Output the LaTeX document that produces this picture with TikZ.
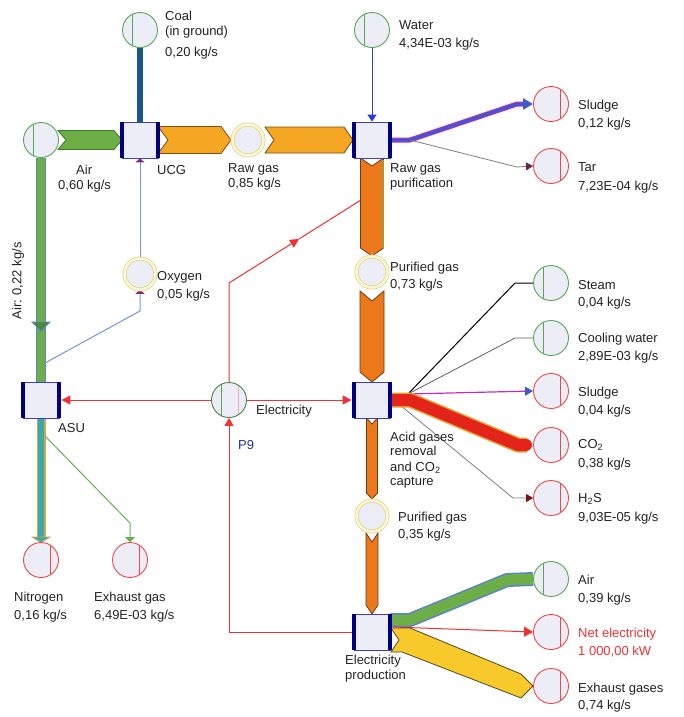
\documentclass[tikz,border=0pt]{standalone}
\usepackage{fontspec}
\setmainfont{Liberation Sans}
\usetikzlibrary{arrows.meta}
\pgfdeclarelayer{bg}
\pgfsetlayers{bg,main}
\definecolor{lav}{RGB}{237,237,247}
\definecolor{boxblue}{RGB}{60,60,200}
\definecolor{navy}{RGB}{0,0,128}
\definecolor{srcgreen}{RGB}{86,168,86}
\definecolor{sinkred}{RGB}{240,72,72}
\definecolor{ylw}{RGB}{222,212,130}
\definecolor{ylwin}{RGB}{250,245,210}
\definecolor{airgreen}{RGB}{109,175,70}
\definecolor{airdark}{RGB}{63,120,42}
\definecolor{orangeA}{RGB}{245,166,35}
\definecolor{orangeAedge}{RGB}{122,80,16}
\definecolor{orangeB}{RGB}{236,120,28}
\definecolor{orangeBedge}{RGB}{110,60,20}
\definecolor{coalblue}{RGB}{27,87,133}
\definecolor{waterblue}{RGB}{40,60,220}
\definecolor{sludgeblue}{RGB}{60,90,200}
\definecolor{sludgemag}{RGB}{200,40,200}
\definecolor{tarpurple}{RGB}{100,40,80}
\definecolor{elred}{RGB}{242,50,50}
\definecolor{co2red}{RGB}{227,36,27}
\definecolor{co2edge}{RGB}{232,160,48}
\definecolor{h2sred}{RGB}{110,20,20}
\definecolor{airblue}{RGB}{90,130,210}
\definecolor{exyel}{RGB}{248,201,42}
\definecolor{exyeledge}{RGB}{80,75,30}
\definecolor{oxblue}{RGB}{115,150,215}
\definecolor{oxpurple}{RGB}{130,40,120}
\definecolor{tealband}{RGB}{62,167,167}
\definecolor{nitroedge}{RGB}{208,165,80}
\definecolor{exgreen}{RGB}{96,180,80}
\definecolor{pinkchord}{RGB}{240,170,190}
\definecolor{p9blue}{RGB}{32,48,160}
\definecolor{txt}{RGB}{35,35,35}
\tikzset{
  lbl/.style={font=\fontsize{13}{15}\selectfont, inner sep=0pt, anchor=base west, text=txt},
  proc/.style={rectangle, draw=boxblue, line width=0.8pt, fill=lav, minimum size=36pt, inner sep=0pt},
  procbar/.style={draw=navy, line width=4pt},
  src/.style={circle, draw=srcgreen, line width=0.9pt, fill=lav, minimum size=35pt, inner sep=0pt,
    path picture={\draw[srcgreen, line width=0.9pt] ([xshift=-8pt]path picture bounding box.north) -- ([xshift=-8pt]path picture bounding box.south);}},
  sink/.style={circle, draw=sinkred, line width=0.9pt, fill=lav, minimum size=35pt, inner sep=0pt,
    path picture={\draw[sinkred, line width=0.9pt] ([xshift=9pt]path picture bounding box.north) -- ([xshift=9pt]path picture bounding box.south);}},
  elecsrc/.style={circle, draw=srcgreen!80!black, line width=0.9pt, fill=lav, minimum size=35pt, inner sep=0pt,
    path picture={\draw[srcgreen, line width=0.9pt] ([xshift=-8pt]path picture bounding box.north) -- ([xshift=-8pt]path picture bounding box.south);
                  \draw[pinkchord, line width=0.9pt] ([xshift=9pt]path picture bounding box.north) -- ([xshift=9pt]path picture bounding box.south);}},
  mid/.style={circle, draw=ylw, line width=0.7pt, double=ylwin, double distance=2.6pt, fill=lav, minimum size=31pt, inner sep=0pt},
  elec/.style={draw=elred, line width=1pt},
  orangeband/.style={fill=orangeA, draw=orangeAedge, line width=0.8pt},
  orangeband2/.style={fill=orangeB, draw=orangeBedge, line width=0.8pt}
}
\newcommand\hchevron[6]{\filldraw[#6] (#1,{#3-#4}) -- ({#2-#5},{#3-#4}) -- (#2,#3) -- ({#2-#5},{#3+#4}) -- (#1,{#3+#4}) -- ({#1+#5},#3) -- cycle;}
\newcommand\vchevron[6]{\filldraw[#6] ({#1-#4},#2) -- (#1,{#2+#5}) -- ({#1+#4},#2) -- ({#1+#4},{#3-#5}) -- (#1,#3) -- ({#1-#4},{#3-#5}) -- cycle;}
\begin{document}
\begin{tikzpicture}[x=1pt,y=-1pt]
\useasboundingbox (0,0) rectangle (683,717);

% ---------- nodes ----------
\node[proc] (ucg) at (140,140) {};
\node[proc] (rgp) at (372,140) {};
\node[proc] (agr) at (372,400) {};
\node[proc] (ep) at (372,632) {};
\node[proc] (asu) at (41,400) {};
\foreach \n in {ucg,rgp,agr,ep,asu}{
  \draw[procbar] (\n.north west) -- (\n.south west);
  \draw[procbar] (\n.north east) -- (\n.south east);
}
\node[src] (coal) at (140,30) {};
\node[src] (airsrc) at (41,140) {};
\node[src] (water) at (372,30) {};
\node[src] (steam) at (551,283) {};
\node[src] (cool) at (551,338) {};
\node[src] (airout) at (551,579) {};
\node[elecsrc] (elecc) at (229,400) {};
\node[sink] (sludgeA) at (551,104) {};
\node[sink] (tar) at (551,166) {};
\node[sink] (sludgeB) at (551,391) {};
\node[sink] (co2) at (551,445) {};
\node[sink] (h2s) at (551,498) {};
\node[sink] (netel) at (551,632) {};
\node[sink] (exh) at (551,686) {};
\node[sink] (nitro) at (41,560) {};
\node[sink] (exhg) at (130,560) {};
\node[mid] (rawgas) at (248,140) {};
\node[mid] (oxy) at (140,274) {};
\node[mid] (pgA) at (372,272) {};
\node[mid] (pgB) at (372,516) {};

% ---------- connectors ----------
\begin{pgfonlayer}{bg}
\fill[white] (0,0) rectangle (683,717);
% coal
\draw[line width=6.5pt, draw=coalblue, line cap=round] (coal.south) -- (ucg.north);
% air -> UCG
\hchevron{58}{122}{140}{9.5}{8}{fill=airgreen, draw=airdark, line width=0.8pt}
% UCG -> raw gas -> purification
\hchevron{158}{231}{140}{13.5}{10}{orangeband}
\hchevron{265}{353}{140}{13}{9}{orangeband}
% water
\draw[draw=waterblue, line width=0.9pt, -{Triangle[length=7pt,width=9pt]}] (water.south) -- (rgp.north);
% purification outputs
\coordinate (r1) at (410,140);
\coordinate (r2) at (517,104);
\coordinate (r3) at (517,167);
\draw[draw=sludgemag, line width=5pt, line join=round] (rgp.east) -- (r1) -- (r2) -- ([xshift=-8pt]sludgeA.west);
\draw[draw=sludgeblue, line width=3pt, line join=round, -{Triangle[length=10pt,width=11pt]}] (rgp.east) -- (r1) -- (r2) -- (sludgeA.west);
\draw[draw=gray, line width=0.8pt, -{Triangle[length=7pt,width=8pt,color=tarpurple]}] (r1) -- (r3) -- (tar.west);
% electricity -> purification
\coordinate (e1) at (229,283);
\coordinate (e2) at (299,239);
\coordinate (e3) at (361,200);
\coordinate (e4) at (361,158);
\draw[elec] (e2) -- (e3) -- (e4);
\draw[elec, -{Triangle[length=9pt,width=9pt]}] (elecc.north) -- (e1) -- (e2);
% vertical gas bands
\vchevron{372}{158}{256}{11.5}{8}{orangeband2}
\draw[draw=exgreen, line width=0.8pt] (383.5,160) -- (383.5,249);
\vchevron{372}{291}{382}{12}{10}{orangeband2}
\vchevron{372}{418}{499}{5.5}{6}{orangeband2}
\vchevron{372}{533}{614}{6}{9}{orangeband2}
% acid gas removal fan
\coordinate (f0) at (408,394);
\draw[draw=black, line width=2pt] ([yshift=6pt]agr.east) -- (f0);
\draw[draw=black, line width=1pt] (f0) -- (515,283) -- (steam.west);
\draw[draw=gray!75!black, line width=0.8pt] (f0) -- (515,338) -- (cool.west);
\draw[draw=sludgemag, line width=1.2pt, -{Triangle[length=8pt,width=9pt,color=sludgeblue]}] (f0) -- (sludgeB.west);
\draw[draw=gray, line width=0.8pt, -{Triangle[length=7pt,width=8pt,color=h2sred]}] (400,405) -- (513,498) -- (h2s.west);
\draw[draw=co2edge, line width=15pt, line join=round] (agr.east) -- (410,400) -- (518,445) -- ([xshift=-6pt]co2.west);
\draw[draw=co2red, line width=12pt, line join=round, line cap=round] (agr.east) -- (410,400) -- (518,445) -- ([xshift=-7pt]co2.west);
% electricity production fan
\draw[draw=airblue, line width=14pt, line join=round] (airout.west) -- (507,580) -- (410,620) -- (ep.east |- 0,620);
\draw[draw=airgreen, line width=11pt, line join=round] (airout.west) -- (507,580) -- (410,620) -- (ep.east |- 0,620);
\draw[elec, -{Triangle[length=9pt,width=10pt]}] (393,627) -- (netel.west);
\filldraw[fill=exyel, draw=exyeledge, line width=0.8pt] (391,628) -- (410,628) -- (521,674) -- (533,686) -- (521,698) -- (402,652) -- (391,652) -- (399,640) -- cycle;
% ASU
\draw[draw=airblue, line width=10pt] (airsrc.south) -- (asu.north);
\draw[draw=airgreen, line width=7.5pt] (airsrc.south) -- (asu.north);
\filldraw[fill=airdark!70!airgreen, draw=airblue, line width=0.8pt] (32,322) -- (50,322) -- (41,331) -- cycle;
\coordinate (o1) at (45,363);
\coordinate (o2) at (140,311);
\draw[draw=oxblue, line width=1pt, -{Triangle[length=4pt,width=9pt,color=oxpurple]}] (o1) -- (o2) -- (oxy.south);
\draw[draw=oxblue, line width=1pt, -{Triangle[length=4pt,width=9pt,color=oxpurple]}] (oxy.north) -- (ucg.south);
\draw[draw=nitroedge, line width=9pt] (asu.south) -- ([yshift=5pt]nitro.north);
\draw[draw=tealband, line width=6.5pt] (asu.south) -- ([yshift=5pt]nitro.north);
\filldraw[fill=tealband, draw=nitroedge, line width=0.8pt] (32,537) -- (50,537) -- (41,542.5) -- cycle;
\coordinate (x1) at (45,436);
\coordinate (x2) at (130,523);
\draw[draw=exgreen, line width=1pt, -{Triangle[length=5pt,width=10pt]}] (x1) -- (x2) -- (exhg.north);
% electricity
\draw[elec, -{Triangle[length=9pt,width=9pt]}, shorten >=2pt] (elecc.west) -- (asu.east);
\draw[elec, -{Triangle[length=9pt,width=9pt]}, shorten >=2pt] (elecc.east) -- (agr.west);
\coordinate (p1) at (229,632);
\draw[elec, -{Triangle[length=8pt,width=9pt]}] (ep.west) -- (p1) -- (elecc.south);
\end{pgfonlayer}

% ---------- labels ----------
\node[lbl] (t1) at (165,20.5) {Coal};
\node[lbl] (t2) at (165,35.5) {(in ground)};
\node[lbl] (t3) at (165,56.5) {0,20 kg/s};
\node[lbl] (t4) at (76,174.5) {Air};
\node[lbl] (t5) at (58,189.5) {0,60 kg/s};
\node[lbl] (t6) at (157,174.5) {UCG};
\node[lbl] (t7) at (228,172.5) {Raw gas};
\node[lbl] (t8) at (228,187.5) {0,85 kg/s};
\node[lbl] (t9) at (399,29.5) {Water};
\node[lbl] (t10) at (399,47.5) {4,34E-03 kg/s};
\node[lbl] (t11) at (390,172.5) {Raw gas};
\node[lbl] (t12) at (390,187.5) {purification};
\node[lbl] (t13) at (578,109.5) {Sludge};
\node[lbl] (t14) at (578,127.5) {0,12 kg/s};
\node[lbl] (t15) at (578,171.5) {Tar};
\node[lbl] (t16) at (578,190.5) {7,23E-04 kg/s};
\node[lbl] (t17) at (157,280.5) {Oxygen};
\node[lbl] (t18) at (157,298.5) {0,05 kg/s};
\node[lbl, rotate=90, anchor=center] (t19) at (18,281) {Air: 0,22 kg/s};
\node[lbl] (t20) at (58,432.5) {ASU};
\node[lbl] (t21) at (256,414.5) {Electricity};
\node[lbl, text=p9blue] (t22) at (238,449.5) {P9};
\node[lbl] (t23) at (390,271.5) {Purified gas};
\node[lbl] (t24) at (390,288.5) {0,73 kg/s};
\node[lbl] (t25) at (390,441.5) {Acid gases};
\node[lbl] (t26) at (390,455.5) {removal};
\node[lbl] (t27) at (390,471.5) {and CO\textsubscript{2}};
\node[lbl] (t28) at (390,485.5) {capture};
\node[lbl] (t29) at (398,521.5) {Purified gas};
\node[lbl] (t30) at (398,538.5) {0,35 kg/s};
\node[lbl] (t31) at (578,289.5) {Steam};
\node[lbl] (t32) at (578,306.5) {0,04 kg/s};
\node[lbl] (t33) at (578,342.5) {Cooling water};
\node[lbl] (t34) at (578,360.5) {2,89E-03 kg/s};
\node[lbl] (t35) at (578,396.5) {Sludge};
\node[lbl] (t36) at (578,414.5) {0,04 kg/s};
\node[lbl] (t37) at (578,448.5) {CO\textsubscript{2}};
\node[lbl] (t38) at (578,467.5) {0,38 kg/s};
\node[lbl] (t39) at (578,502.5) {H\textsubscript{2}S};
\node[lbl] (t40) at (578,521.5) {9,03E-05 kg/s};
\node[lbl] (t41) at (578,584.5) {Air};
\node[lbl] (t42) at (578,602.5) {0,39 kg/s};
\node[lbl, text=elred] (t43) at (578,637.5) {Net electricity};
\node[lbl, text=elred] (t44) at (578,655.5) {1 000,00 kW};
\node[lbl] (t45) at (578,692.5) {Exhaust gases};
\node[lbl] (t46) at (578,709.5) {0,74 kg/s};
\node[lbl] (t47) at (14,601.5) {Nitrogen};
\node[lbl] (t48) at (14,619.5) {0,16 kg/s};
\node[lbl] (t49) at (94,601.5) {Exhaust gas};
\node[lbl] (t50) at (94,619.5) {6,49E-03 kg/s};
\node[lbl] (t51) at (345,664.5) {Electricity};
\node[lbl] (t52) at (345,679.5) {production};
\end{tikzpicture}
\end{document}
